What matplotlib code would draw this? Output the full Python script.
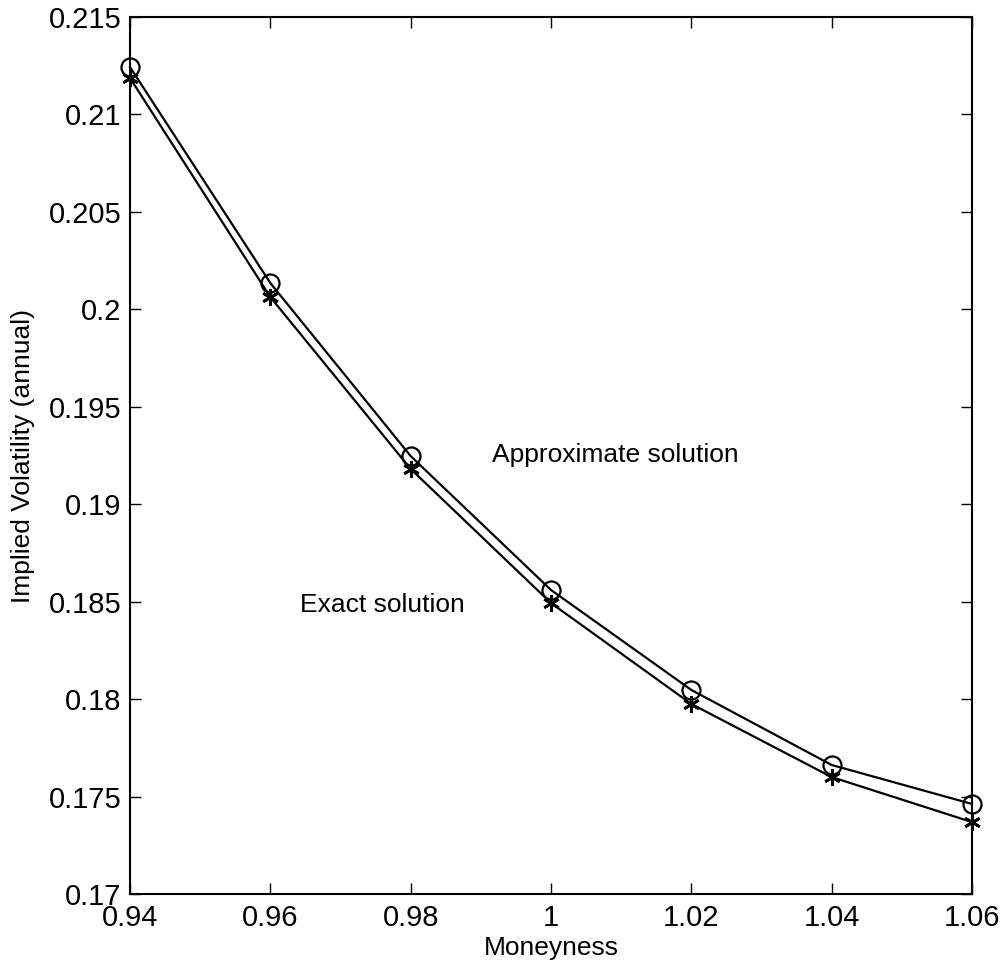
import matplotlib
matplotlib.use("Agg")
import matplotlib.pyplot as plt

moneyness = [0.94, 0.96, 0.98, 1.00, 1.02, 1.04, 1.06]
approx_vol = [0.21243, 0.20135, 0.19247, 0.18560, 0.18047, 0.17662, 0.17462]
exact_vol = [0.21187, 0.20063, 0.19181, 0.18493, 0.17975, 0.17600, 0.17369]

xticks = [0.94, 0.96, 0.98, 1.00, 1.02, 1.04, 1.06]
xticklabels = ["0.94", "0.96", "0.98", "1", "1.02", "1.04", "1.06"]
yticks = [0.17, 0.175, 0.18, 0.185, 0.19, 0.195, 0.2, 0.205, 0.21, 0.215]
yticklabels = ["0.17", "0.175", "0.18", "0.185", "0.19", "0.195", "0.2", "0.205", "0.21", "0.215"]

plt.rcParams["font.family"] = ["Liberation Sans", "DejaVu Sans"]

fig = plt.figure(figsize=(10.06, 9.71), dpi=100)
ax = fig.add_axes([130 / 1006, 1 - 894 / 971, 842 / 1006, 877 / 971])

ax.plot(moneyness, approx_vol, color="black", linewidth=1.6, clip_on=False,
        marker="o", markersize=13, markerfacecolor="none", markeredgewidth=1.6)
ax.plot(moneyness, exact_vol, color="black", linewidth=1.6, clip_on=False,
        marker=(6, 2, 0), markersize=12, markeredgewidth=2)

ax.text(0.9916, 0.1925, "Approximate solution", fontsize=19, va="center", ha="left")
ax.text(0.9642, 0.18483, "Exact solution", fontsize=19, va="center", ha="left")

ax.set_xlim(0.94, 1.06)
ax.set_ylim(0.17, 0.215)
ax.set_xticks(xticks)
ax.set_xticklabels(xticklabels)
ax.set_yticks(yticks)
ax.set_yticklabels(yticklabels)
ax.tick_params(direction="in", length=8, width=1, top=True, right=True,
               labelsize=21)
ax.tick_params(axis="x", pad=7)
ax.tick_params(axis="y", pad=6)
for s in ax.spines.values():
    s.set_linewidth(1.5)

ax.set_xlabel("Moneyness", fontsize=19, labelpad=3)
ax.set_ylabel("Implied Volatility (annual)", fontsize=19, labelpad=10)

fig.savefig("out.png", dpi=100)
